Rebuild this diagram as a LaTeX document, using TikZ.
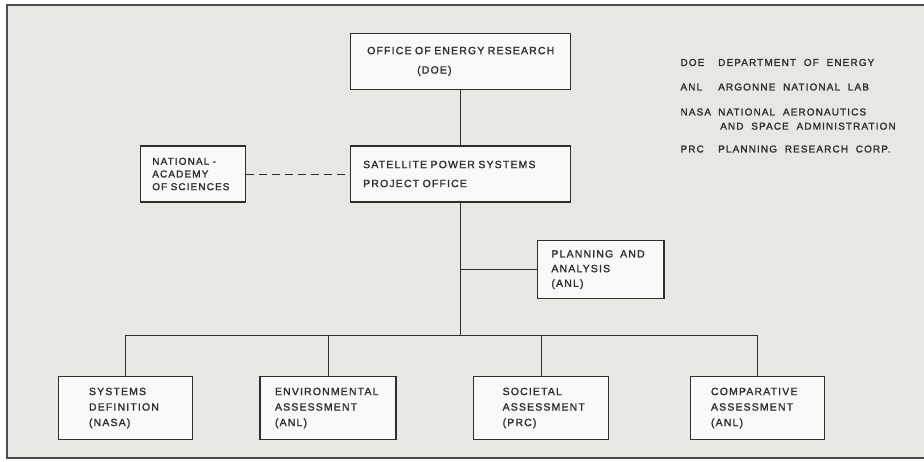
\documentclass[tikz,border=0pt]{standalone}
\usepackage{fontspec}
\usepackage{tikz}
\usetikzlibrary{positioning,calc}
\newfontfamily\orgfont[LetterSpace=11,WordSpace=2,FakeBold=1.5]{Liberation Sans}
\definecolor{sspgray}{HTML}{E7E7E4}
\definecolor{sspink}{HTML}{2E2E2E}
\definecolor{sspbox}{HTML}{F9F9F7}
\tikzset{
  orgbox/.style={draw=sspink,line width=1.3pt,fill=sspbox,text=sspink,align=left,inner ysep=0pt},
  orgline/.style={draw=sspink,line width=0.8pt},
  orgdash/.style={orgline,dash pattern=on 8pt off 5pt},
  orgframe/.style={draw=sspink!85,line width=1.6pt},
  orgkey/.style={text=sspink,anchor=west,inner sep=0pt,align=left,font=\orgfont\fontsize{10}{14.2}\selectfont}
}

\begin{document}
\begin{tikzpicture}[x=1pt,y=-1pt]
\useasboundingbox (0,0) rectangle (924,462);
\fill[sspgray] (7,5) rectangle (924,457.7);
\draw[orgframe] (924,5) -- (7,5) -- (7,457.7) -- (924,457.7);
\node[orgbox,minimum width=220pt,minimum height=56pt,text width=186.8pt,inner xsep=16.6pt,font=\orgfont\fontsize{10.5}{19.4}\selectfont] (doe) at (460.6,61.3) {OFFICE~OF~ENERGY~RESEARCH\\\hspace*{50pt}(DOE)};
\node[orgbox,minimum width=220pt,minimum height=56pt,text width=194.8pt,inner xsep=12.6pt,font=\orgfont\fontsize{10.5}{19}\selectfont] (spso) at (460.6,174) {SATELLITE~POWER~SYSTEMS\\PROJECT~OFFICE};
\node[orgbox,minimum width=105pt,minimum height=56pt,text width=81.4pt,inner xsep=11.8pt,font=\orgfont\fontsize{10}{12.7}\selectfont] (nas) at (193,174) {NATIONAL~-\\ACADEMY\\OF~SCIENCES};
\node[orgbox,minimum width=126.5pt,minimum height=58pt,text width=98.5pt,inner xsep=14pt,font=\orgfont\fontsize{10.5}{14.7}\selectfont] (pa) at (600.7,269.6) {PLANNING~~AND\\ANALYSIS\\(ANL)};
\node[orgbox,minimum width=134pt,minimum height=62.6pt,text width=72.6pt,inner xsep=30.7pt,font=\orgfont\fontsize{10.5}{15.5}\selectfont] (sd) at (125.3,408) {SYSTEMS\\DEFINITION\\(NASA)};
\node[orgbox,minimum width=136pt,minimum height=62.6pt,text width=106pt,inner xsep=15pt,font=\orgfont\fontsize{10.5}{15.5}\selectfont] (ea) at (328,408) {ENVIRONMENTAL\\ASSESSMENT\\(ANL)};
\node[orgbox,minimum width=134.5pt,minimum height=62.6pt,text width=76.7pt,inner xsep=28.9pt,font=\orgfont\fontsize{10.5}{15.5}\selectfont] (sa) at (541,408) {SOCIETAL\\ASSESSMENT\\(PRC)};
\node[orgbox,minimum width=133.6pt,minimum height=62.6pt,text width=93pt,inner xsep=20.3pt,font=\orgfont\fontsize{10.5}{15.5}\selectfont] (ca) at (757.5,408) {COMPARATIVE\\ASSESSMENT\\(ANL)};
\node[orgkey] (kdoe) at (680.3,62.5) {DOE};
\node[orgkey] (tdoe) at (718,62.5) {DEPARTMENT~OF~ENERGY};
\node[orgkey] (kanl) at (680.3,87) {ANL};
\node[orgkey] (tanl) at (718,87) {ARGONNE~NATIONAL~LAB};
\node[orgkey] (knasa) at (680.3,112) {NASA};
\node[orgkey] (tnasa) at (718,119.1) {NATIONAL~AERONAUTICS\\\hspace*{2pt}AND~SPACE~ADMINISTRATION};
\node[orgkey] (kprc) at (680.3,149) {PRC};
\node[orgkey] (tprc) at (718,149) {PLANNING~RESEARCH~CORP.};
\coordinate (bus) at (460.6,335);
\draw[orgline] (doe) -- (spso);
\draw[orgline] (spso) -- (bus);
\draw[orgline] (pa.west) -- (pa.west -| bus);
\foreach \n in {sd,ea,sa,ca}{\draw[orgline] (\n.north) |- (bus);}
\draw[orgdash] (nas) -- (spso);
\end{tikzpicture}
\end{document}
